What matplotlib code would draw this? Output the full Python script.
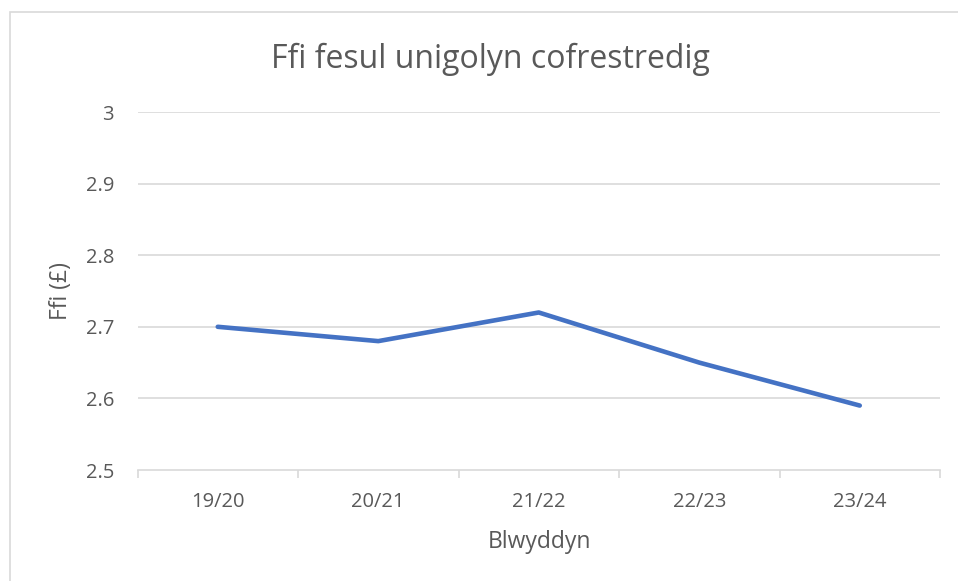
import matplotlib
matplotlib.use("Agg")
import matplotlib.pyplot as plt
from matplotlib.patches import Rectangle

years = ["19/20", "20/21", "21/22", "22/23", "23/24"]
cost = [2.70, 2.68, 2.72, 2.65, 2.59]
yticks = [2.5, 2.6, 2.7, 2.8, 2.9, 3.0]
ytick_labels = ["2.5", "2.6", "2.7", "2.8", "2.9", "3"]

plt.rcParams['font.family'] = ['Open Sans', 'DejaVu Sans']
TXT = '#595959'
GRID = '#D9D9D9'

W, H = 958, 581
fig = plt.figure(figsize=(W/100, H/100), dpi=100)
fig.patches.append(Rectangle((10/W, -0.1), 1.2, 1 - 12/H + 0.1, transform=fig.transFigure,
                             fill=False, edgecolor=GRID, linewidth=1.2))

ax = fig.add_axes([137.5/W, 1-470/H, (940-137.5)/W, (470-112)/H])
x = list(range(len(years)))
ax.plot(x, cost, color='#4472C4', linewidth=3.3, solid_capstyle='round', solid_joinstyle='round', zorder=3)
ax.set_xlim(-0.5, len(years)-0.5)
ax.set_ylim(2.5, 3.0)
ax.set_yticks(yticks)
ax.set_yticklabels(ytick_labels)
ax.set_xticks(x)
ax.set_xticklabels(years)
ax.set_xticks([i-0.5 for i in range(len(years)+1)], minor=True)
ax.tick_params(axis='x', which='major', length=0, pad=16, labelsize=14.5, labelcolor=TXT)
ax.tick_params(axis='x', which='minor', length=6, color=GRID, width=1.2)
ax.tick_params(axis='y', length=0, pad=17, labelsize=14.5, labelcolor=TXT)
for s in ['top', 'right', 'left']:
    ax.spines[s].set_visible(False)
ax.spines['bottom'].set_color(GRID)
ax.spines['bottom'].set_linewidth(1.2)
for yv in yticks[1:]:
    ax.axhline(yv, color=GRID, linewidth=1.2, zorder=1)

fig.text(539/W, 1-542/H, "Blwyddyn", ha='center', va='center', fontsize=16.5, color=TXT)
fig.text(61/W, 1-291/H, "Ffi (£)", ha='center', va='center', rotation=90, fontsize=16.5, color=TXT)
fig.text(490/W, 1-59/H, "Ffi fesul unigolyn cofrestredig", ha='center', va='center',
         fontsize=23, color=TXT)

fig.savefig("out.png", dpi=100)
